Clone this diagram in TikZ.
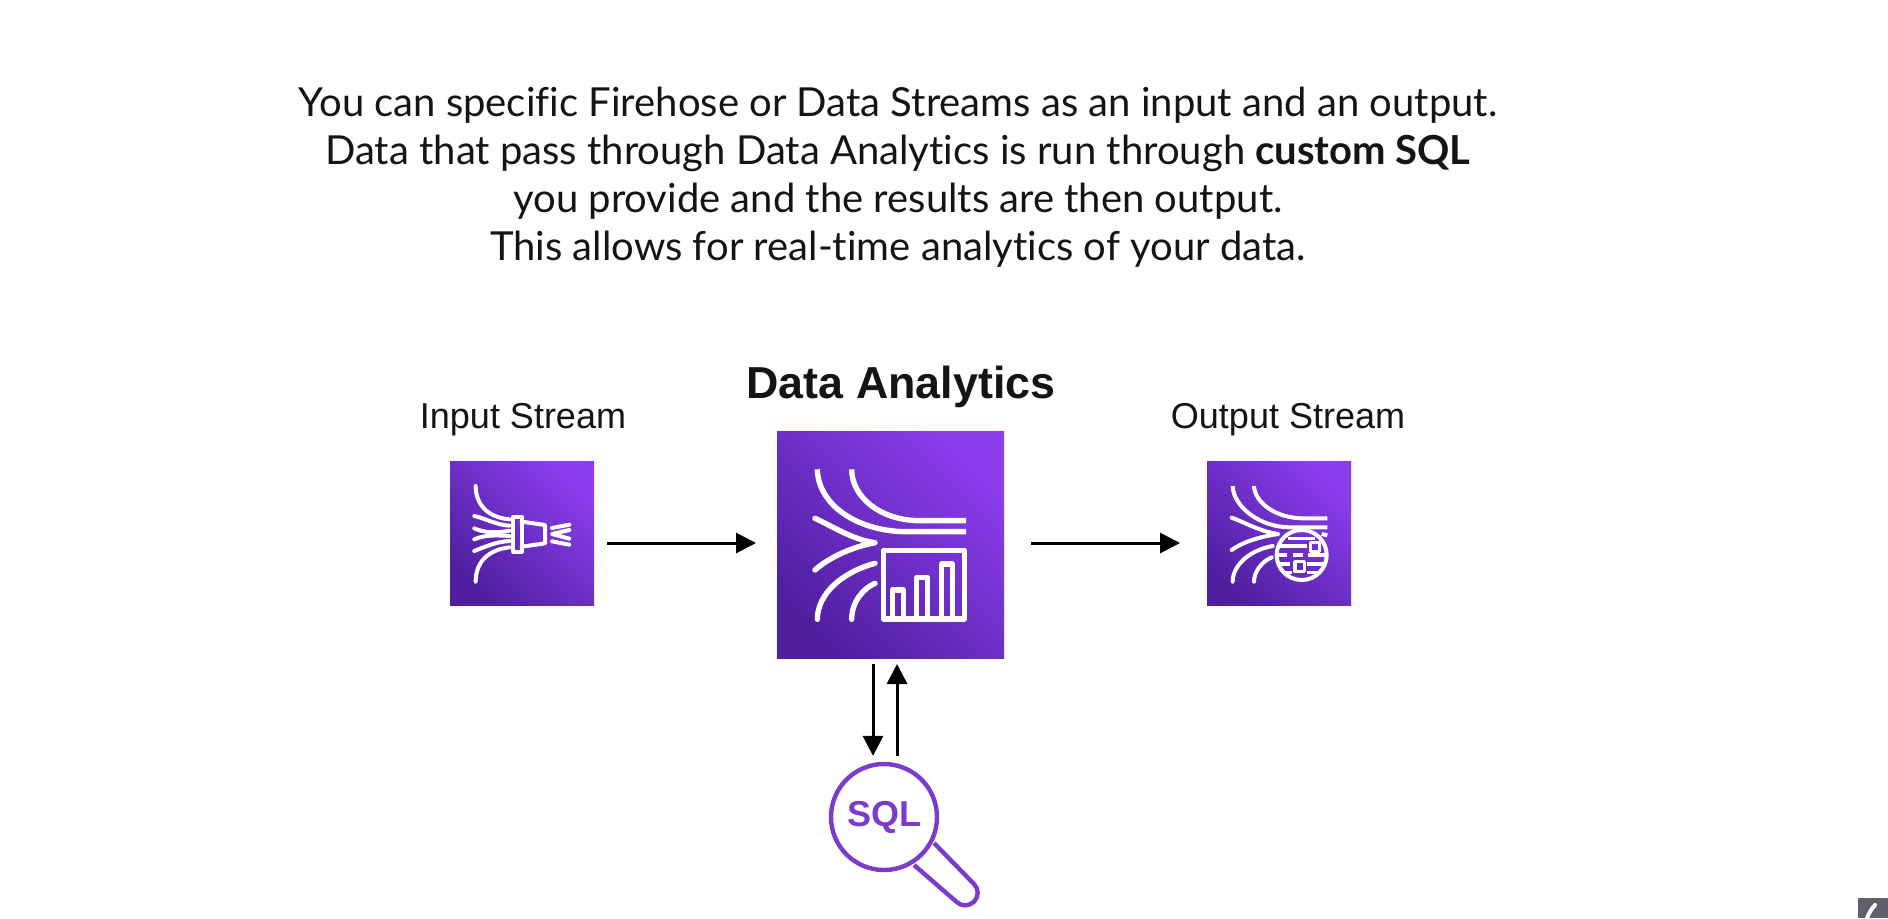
\documentclass[tikz,border=0pt]{standalone}
\usepackage{fontspec}
\setmainfont[Ligatures=NoCommon]{Lato}
\newfontfamily\arialfont{Liberation Sans}
\usetikzlibrary{arrows.meta}
\definecolor{inktext}{HTML}{141414}
\definecolor{awslow}{HTML}{4F1FA0}
\definecolor{awshigh}{HTML}{8B3DEC}
\definecolor{sqlpurple}{HTML}{7D3BCB}
\definecolor{cornergray}{HTML}{5F5F6E}
\tikzset{
  iconbox/.style={rectangle,inner sep=0pt,outer sep=0pt,bottom color=awslow,top color=awshigh,shading angle=-45},
  flow/.style={draw=black,line width=1.5pt,-{Triangle[length=10pt,width=10pt]}},
  glyph/.style={draw=white,line width=2pt,line cap=round,line join=round},
  thin glyph/.style={draw=white,line width=1.6pt,line cap=round,line join=round},
  caption/.style={font=\arialfont\fontsize{18pt}{20pt}\selectfont,text=inktext,anchor=base},
  zoomed/.style={x=0.5pt/3,y=-0.5pt/3},
}
\begin{document}
\begin{tikzpicture}[x=0.5pt,y=-0.5pt]
\useasboundingbox (0,0) rectangle (1888,918);
\fill[white] (0,0) rectangle (1888,918);

\node[align=center,text=inktext,font=\fontsize{20pt}{24pt}\selectfont] (intro) at (898,177)
 {You can specific Firehose or Data Streams as an input and an output.\\
  Data that pass through Data Analytics is run through \textbf{custom SQL}\\
  you provide and the results are then output.\\
  This allows for real-time analytics of your data.};

\node[caption] (inlabel) at (523,428) {Input Stream};
\node[caption] (outlabel) at (1288,428) {Output Stream};
\node[caption,font=\arialfont\bfseries\fontsize{22.4pt}{24pt}\selectfont] (hublabel) at (901,398) {Data Analytics};

\node[iconbox,minimum width=72pt,minimum height=72pt] (input) at (522,533.5) {};
\node[iconbox,minimum width=113.5pt,minimum height=113.5pt] (hub) at (890.5,544.5) {};
\node[iconbox,minimum width=72pt,minimum height=72pt] (output) at (1279,533.5) {};

% input icon
\begin{scope}[shift={(430,440)},zoomed]
\draw[glyph] (137,138) .. controls (137,190) and (170,232) .. (238,238);
\draw[glyph] (133,228) .. controls (165,235) and (200,255) .. (238,257);
\draw[glyph] (133,265) .. controls (160,278) and (200,280) .. (238,272);
\draw[glyph] (133,298) .. controls (160,285) and (200,285) .. (238,288);
\draw[glyph] (133,333) .. controls (165,320) and (200,305) .. (238,303);
\draw[glyph] (137,425) .. controls (137,370) and (170,330) .. (238,322);
\draw[glyph] (250,230) rectangle (275,335);
\draw[glyph] (275,245) -- (345,255) -- (345,310) -- (275,320);
\draw[glyph] (366,264) -- (418,254);
\draw[glyph] (418,270) -- (366,282) -- (418,296);
\draw[glyph] (366,304) -- (418,314);
\end{scope}

% hub icon
\begin{scope}[shift={(760,420)},zoomed]
\draw[glyph,line width=2.7pt,line cap=butt] (172,148) .. controls (175,260) and (300,335) .. (440,335) -- (618,335);
\draw[glyph,line width=2.7pt,line cap=butt] (275,148) .. controls (275,230) and (360,302) .. (480,302) -- (618,302);
\draw[glyph,line width=2.7pt] (165,295) .. controls (220,320) and (280,360) .. (345,368) .. controls (280,380) and (210,410) .. (165,450);
\draw[glyph,line width=2.7pt] (172,598) .. controls (172,520) and (250,455) .. (345,430);
\draw[glyph,line width=2.7pt] (275,598) .. controls (275,545) and (310,505) .. (345,490);
\draw[glyph,line width=2.7pt,line cap=butt] (370,392) rectangle (613,597);
\draw[glyph,line width=2.6pt,line cap=butt] (397,597) -- (397,510) -- (430,510) -- (430,597);
\draw[glyph,line width=2.6pt,line cap=butt] (470,597) -- (470,472) -- (503,472) -- (503,597);
\draw[glyph,line width=2.6pt,line cap=butt] (545,597) -- (545,432) -- (578,432) -- (578,597);
\end{scope}

% output icon
\begin{scope}[shift={(1190,440)},zoomed]
\draw[glyph,line cap=butt] (128,138) .. controls (130,200) and (210,262) .. (300,262) -- (412,262);
\draw[glyph,line cap=butt] (192,138) .. controls (195,190) and (260,235) .. (340,235) -- (412,235);
\draw[glyph] (125,233) .. controls (160,245) and (210,275) .. (265,282) .. controls (210,290) and (160,305) .. (125,330);
\draw[glyph] (128,425) .. controls (128,375) and (180,330) .. (248,318);
\draw[glyph] (192,425) .. controls (192,395) and (215,365) .. (245,352);
\draw[glyph,line cap=butt] (395,282) -- (412,286);
\draw[glyph] (335,345) circle [x radius=75,y radius=75];
\draw[thin glyph,line cap=butt] (295,295) -- (375,295);
\draw[thin glyph,line cap=butt] (265,318) -- (350,318);
\draw[thin glyph,line cap=butt] (262,345) -- (290,345) (310,345) -- (340,345) (355,345) -- (405,345);
\draw[thin glyph,line cap=butt] (262,372) -- (300,372) (350,372) -- (405,372);
\draw[thin glyph,line cap=butt] (285,398) -- (305,398) (350,398) -- (385,398);
\draw[thin glyph] (362,308) rectangle (388,335);
\draw[thin glyph] (315,365) rectangle (343,395);
\end{scope}

% magnifier
\node[circle,draw=sqlpurple,line width=2.2pt,minimum size=53pt,inner sep=0pt,outer sep=1.1pt,text=sqlpurple,font=\arialfont\bfseries\fontsize{18pt}{20pt}\selectfont] (sql) at (884,817) {SQL};
\draw[sqlpurple,line width=2.2pt,line join=round] (934,843) -- (974,884) arc [start angle=-45,end angle=135,radius=12.5] -- (914,865);

% connectors
\draw[flow] ([xshift=6.5pt,yshift=-4.75pt]input.east) -- ([xshift=-10.5pt,yshift=0.75pt]hub.west);
\draw[flow] ([xshift=13.5pt,yshift=0.75pt]hub.east) -- ([xshift=-13.5pt,yshift=-4.75pt]output.west);
\draw[flow] ([xshift=-8.75pt,yshift=-3pt]hub.south) -- ([xshift=-5.5pt,yshift=3pt]sql.north);
\draw[flow] ([xshift=6.5pt,yshift=3pt]sql.north) -- ([xshift=3.25pt,yshift=-3pt]hub.south);

% corner control
\node[rectangle,fill=cornergray,inner sep=0pt,minimum width=15pt,minimum height=10pt,anchor=south east] (corner) at (1888,918) {};
\draw[white,line width=2pt,line cap=round] (1867,918) .. controls (1869,913) and (1872,908) .. (1875,905);
\end{tikzpicture}
\end{document}
